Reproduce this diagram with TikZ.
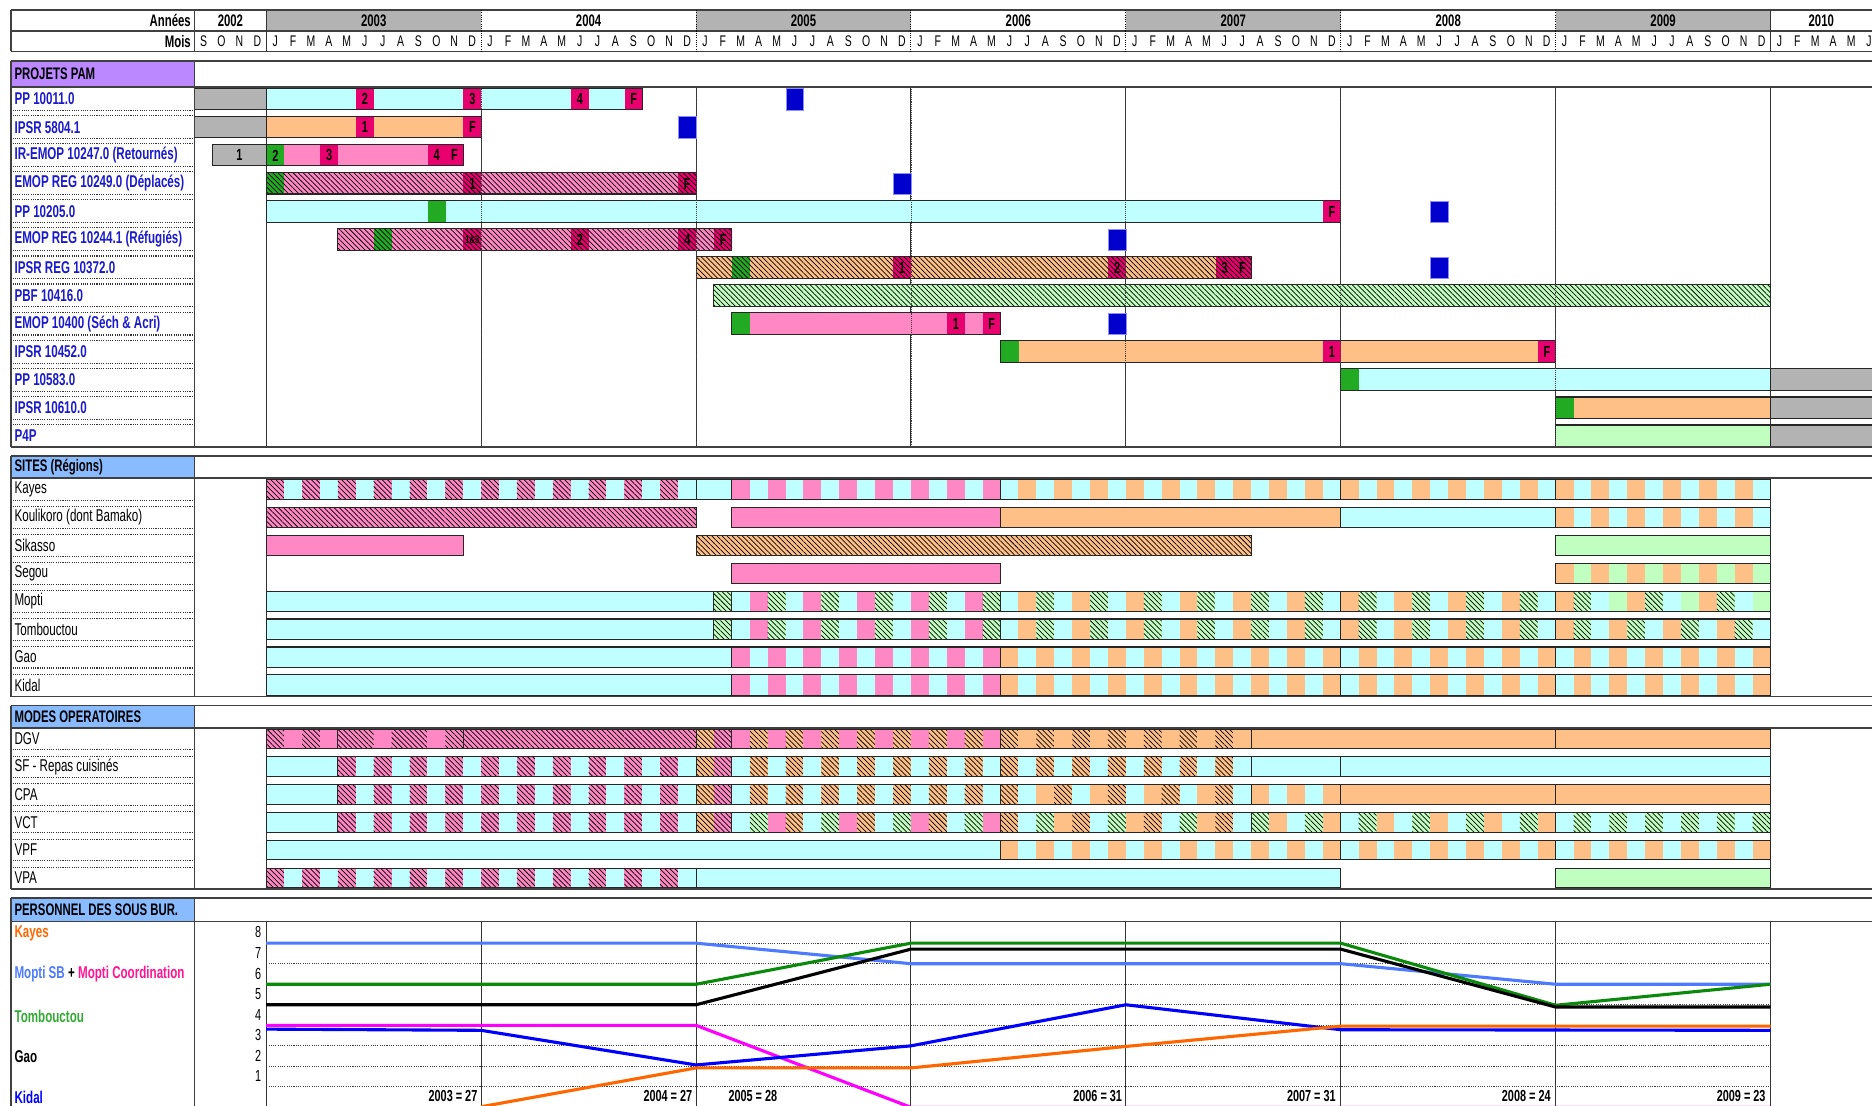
\documentclass[tikz,border=0pt]{standalone}
\usepackage{fontspec}
\setmainfont{Liberation Sans}[FakeStretch=0.68]
\usetikzlibrary{patterns.meta}

\definecolor{cyanL}{HTML}{C0FFFF}
\definecolor{peachL}{HTML}{FFC088}
\definecolor{pinkL}{HTML}{FF88C4}
\definecolor{greenL}{HTML}{C0FFC0}
\definecolor{grayL}{HTML}{B3B3B3}
\definecolor{magM}{HTML}{E8006E}
\definecolor{greenM}{HTML}{22AA22}
\definecolor{blueEv}{HTML}{0000CC}
\definecolor{projblue}{HTML}{1A1ACC}
\definecolor{headpurple}{HTML}{BB88FF}
\definecolor{headblue}{HTML}{88BBFF}
\definecolor{lineKayes}{HTML}{FF6600}
\definecolor{lineMoptiSB}{HTML}{4D7AFF}
\definecolor{lineMoptiCo}{HTML}{FF00FF}
\definecolor{lineTomb}{HTML}{0A8A0A}
\definecolor{lineKidal}{HTML}{0000FF}
\definecolor{labMoptiCo}{HTML}{FF1493}
\definecolor{labTomb}{HTML}{33AA33}

\tikzset{
  cy/.style={fill=cyanL}, pk/.style={fill=pinkL}, pe/.style={fill=peachL},
  lg/.style={fill=greenL}, gy/.style={fill=grayL},
  mg/.style={fill=magM}, gn/.style={fill=greenM},
  hatch/.style={postaction={pattern={Lines[angle=-45,distance=3pt,line width=0.6pt]},pattern color=black}},
  hpk/.style={pk,hatch}, hpe/.style={pe,hatch}, hlg/.style={lg,hatch},
  hmg/.style={mg,hatch}, hgn/.style={gn,hatch},
  barline/.style={draw=black!85,line width=0.9pt},
  boxline/.style={draw=black!75,line width=1.3pt},
  rowsep/.style={densely dotted,line width=0.9pt,black!80},
  yearline/.style={draw=black!80,line width=0.9pt},
  gridline/.style={densely dotted,line width=0.9pt,black!75},
  hdrtext/.style={inner sep=0pt,font=\bfseries\fontsize{14}{14}\selectfont},
  monthtext/.style={inner sep=0pt,font=\fontsize{12.9}{12.9}\selectfont},
  projlabel/.style={anchor=west,inner sep=0pt,text=projblue,font=\bfseries\fontsize{14.3}{14.3}\selectfont},
  sitelabel/.style={anchor=west,inner sep=0pt,font=\fontsize{14.3}{14.3}\selectfont},
  stafflabel/.style={anchor=west,inner sep=0pt,font=\bfseries\fontsize{14.3}{14.3}\selectfont},
  sectitle/.style={anchor=west,inner sep=0pt,font=\bfseries\fontsize{14}{14}\selectfont},
  mstone/.style={anchor=north west,inner sep=0pt,minimum width=15pt,minimum height=\bh pt,font=\bfseries\fontsize{13.5}{13.5}\selectfont},
  evalbox/.style={anchor=north west,inner sep=0pt,minimum width=15pt,minimum height=18pt,fill=blueEv,draw=blue!45,line width=0.6pt},
  staffline/.style={line width=2.6pt,line join=round},
  total/.style={inner sep=0pt,font=\bfseries\fontsize{13.4}{13.4}\selectfont},
  axisnum/.style={anchor=east,inner sep=0pt,font=\fontsize{13.4}{13.4}\selectfont},
}

% one bar: [milestones]{row}{first month}{last month}{cycle of cell styles}
\newcommand\seg[5][]{%
  \pgfmathsetmacro\rtop{\tz+\tstep*#2}%
  \foreach \s [count=\c] in {#5}{\xdef\ncyc{\c}}%
  \foreach \k in {#3,...,#4}{%
    \pgfmathtruncatemacro\ci{mod(\k-(#3),\ncyc)}%
    \foreach \s [count=\c from 0] in {#5}{%
      \ifnum\c=\ci\relax
        \fill[\s] ({223+15*\k},\rtop) rectangle ({238+15*\k},\rtop+\bh);
      \fi
    }%
  }%
  #1%
  \draw[barline] ({223+15*(#3)},\rtop) rectangle ({238+15*(#4)},\rtop+\bh);
}
% milestone cell: {name}{row}{month}{style}{text}
\newcommand\milestone[5]{%
  \pgfmathsetmacro\mtop{\tz+\tstep*#2}%
  \node[mstone,#4] (#1) at ({223+15*#3},\mtop) {#5};
}
% evaluation square: {name}{row}{month}
\newcommand\evalmark[3]{%
  \pgfmathsetmacro\mtop{\tz+\tstep*#2}%
  \node[evalbox] (#1) at ({223+15*#3},\mtop) {};
}
% section frame: {name}{top}{header bottom}{bottom}{fill}{title}
\newcommand\sectionbox[6]{%
  \fill[#5] (9.3,#2) rectangle (163,#3);
  \node[sectitle] (#1) at (12,{(#2+#3)/2}) {#6};
  \draw[boxline] (9.3,#2) -- (1568,#2) (9.3,#3) -- (1568,#3) (9.3,#4) -- (1568,#4)
    (9.3,#2) -- (9.3,#4) (163,#2) -- (163,#4);
}
% dotted separators of the label column: {number of rows}
\newcommand\labelseps[1]{%
  \foreach \i in {1,...,#1}{
    \draw[rowsep] (10.5,{\tz+\tstep*(\i-1)+\bh+0.6}) -- (162,{\tz+\tstep*(\i-1)+\bh+0.6})
      (10.5,{\tz+\tstep*\i-0.6}) -- (162,{\tz+\tstep*\i-0.6});
  }
}

\begin{document}
\begin{tikzpicture}[x=1pt,y=-1pt]
\useasboundingbox (0,0) rectangle (1568,926);
\clip (0,0) rectangle (1568,926);

% years and months
\foreach \yr/\xa/\xb/\fil in {2002/163/223/white,2003/223/403/grayL,2004/403/583/white,
  2005/583/763/grayL,2006/763/943/white,2007/943/1123/grayL,2008/1123/1303/white,
  2009/1303/1483/grayL,2010/1483/1568/white}{
  \fill[\fil] (\xa,8.4) rectangle (\xb,26);
  \node[hdrtext] (an\yr) at ({(\xa+\xb)/2},17.4) {\yr};
}
\node[hdrtext,anchor=east] (annees) at (160,17.4) {Années};
\node[hdrtext,anchor=east] (mois) at (160,34.8) {Mois};
\foreach \k in {-4,...,89}{
  \pgfmathtruncatemacro\mi{mod(\k+12,12)}
  \node[monthtext] (m\k) at ({230.5+15*\k},34.8)
    {\ifcase\mi J\or F\or M\or A\or M\or J\or J\or A\or S\or O\or N\or D\fi};
}
\draw[boxline] (9.3,8.4) -- (1568,8.4) (9.3,26) -- (1568,26) (9.3,43) -- (1568,43)
  (9.3,8.4) -- (9.3,43) (163,8.4) -- (163,43);
\draw[yearline] (223,8.4) -- (223,43) (1483,8.4) -- (1483,43);
\foreach \x in {403,583,...,1303} \draw[densely dotted,line width=0.9pt] (\x,8.4) -- (\x,43);

% PROJETS PAM
\def\tz{74}\def\tstep{23.5}\def\bh{18}
\foreach \x in {223,403,...,1483} \draw[yearline] (\x,73) -- (\x,374.5);
\seg{0}{-4}{-1}{gy}
\seg[\milestone{pp1a}{0}{5}{mg}{2}\milestone{pp1b}{0}{11}{mg}{3}%
  \milestone{pp1c}{0}{17}{mg}{4}\milestone{pp1d}{0}{20}{mg}{F}]{0}{0}{20}{cy}
\seg{1}{-4}{-1}{gy}
\seg[\milestone{ip1a}{1}{5}{mg}{1}\milestone{ip1b}{1}{11}{mg}{F}]{1}{0}{11}{pe}
\seg{2}{-3}{-1}{gy}
\node[mstone,anchor=center] (ir1) at (200.5,{\tz+\tstep*2+\bh/2}) {1};
\seg[\milestone{ir1a}{2}{0}{gn}{2}\milestone{ir1b}{2}{3}{mg}{3}%
  \milestone{ir1c}{2}{9}{mg}{4}\milestone{ir1d}{2}{10}{mg}{F}]{2}{0}{10}{pk}
\seg[\milestone{er1a}{3}{0}{hgn}{}\milestone{er1b}{3}{11}{hmg}{1}%
  \milestone{er1c}{3}{23}{hmg}{F}]{3}{0}{23}{hpk}
\seg[\milestone{pp2a}{4}{9}{gn}{}\milestone{pp2b}{4}{59}{mg}{F}]{4}{0}{59}{cy}
\seg[\milestone{er2a}{5}{6}{hgn}{}\milestone{er2b}{5}{11}{hmg}{\fontsize{9.5}{9.5}\selectfont 1\&3}%
  \milestone{er2c}{5}{17}{hmg}{2}\milestone{er2d}{5}{23}{hmg}{4}%
  \milestone{er2e}{5}{25}{hmg}{F}]{5}{4}{25}{hpk}
\seg[\milestone{ir2a}{6}{26}{hgn}{}\milestone{ir2b}{6}{35}{hmg}{1}%
  \milestone{ir2c}{6}{47}{hmg}{2}\milestone{ir2d}{6}{53}{hmg}{3}%
  \milestone{ir2e}{6}{54}{hmg}{F}]{6}{24}{54}{hpe}
\seg{7}{25}{83}{hlg}
\seg[\milestone{em1a}{8}{26}{gn}{}\milestone{em1b}{8}{38}{mg}{1}%
  \milestone{em1c}{8}{40}{mg}{F}]{8}{26}{40}{pk}
\seg[\milestone{ip2a}{9}{41}{gn}{}\milestone{ip2b}{9}{59}{mg}{1}%
  \milestone{ip2c}{9}{71}{mg}{F}]{9}{41}{71}{pe}
\seg[\milestone{pp3a}{10}{60}{gn}{}]{10}{60}{83}{cy}
\seg{10}{84}{90}{gy}
\seg[\milestone{ip3a}{11}{72}{gn}{}]{11}{72}{83}{pe}
\seg{11}{84}{90}{gy}
\seg{12}{72}{83}{lg}
\seg{12}{84}{90}{gy}
\foreach \x in {403,583,...,1303} \draw[densely dotted,black!75,line width=0.6pt] (\x,73) -- (\x,374.5);
\evalmark{ev1}{0}{29}
\evalmark{ev2}{1}{23}
\evalmark{ev3}{3}{35}
\evalmark{ev4}{4}{65}
\evalmark{ev5}{5}{47}
\evalmark{ev6}{6}{65}
\evalmark{ev7}{8}{47}
\sectionbox{projets}{51}{73}{374.5}{headpurple}{PROJETS PAM}
\labelseps{12}
\foreach \lab [count=\i from 0] in {PP 10011.0,IPSR 5804.1,IR-EMOP 10247.0 (Retournés),
  EMOP REG 10249.0 (Déplacés),PP 10205.0,EMOP REG 10244.1 (Réfugiés),IPSR REG 10372.0,
  PBF 10416.0,EMOP 10400 (Séch \& Acri),IPSR 10452.0,PP 10583.0,IPSR 10610.0,P4P}
  \node[projlabel] (proj\i) at (12,{\tz+\tstep*\i+\bh/2}) {\lab};

% SITES (Regions)
\def\tz{401.5}\def\tstep{23.4}\def\bh{17}
\draw[yearline] (223,400.5) -- (223,583.5) (1483,400.5) -- (1483,583.5);
\seg{0}{0}{23}{hpk,cy}\seg{0}{24}{25}{cy}\seg{0}{26}{40}{pk,cy}
\seg{0}{41}{59}{cy,pe}\seg{0}{60}{71}{pe,cy}\seg{0}{72}{83}{pe,cy}
\seg{1}{0}{23}{hpk}\seg{1}{26}{40}{pk}\seg{1}{41}{59}{pe}
\seg{1}{60}{71}{cy}\seg{1}{72}{83}{pe,cy}
\seg{2}{0}{10}{pk}\seg{2}{24}{54}{hpe}\seg{2}{72}{83}{lg}
\seg{3}{26}{40}{pk}\seg{3}{72}{83}{pe,lg}
\seg{4}{0}{24}{cy}\seg{4}{25}{25}{hlg}\seg{4}{26}{40}{cy,pk,hlg}
\seg{4}{41}{59}{cy,pe,hlg}\seg{4}{60}{71}{pe,hlg,cy}\seg{4}{72}{83}{pe,hlg,cy,lg}
\seg{5}{0}{24}{cy}\seg{5}{25}{25}{hlg}\seg{5}{26}{40}{cy,pk,hlg}
\seg{5}{41}{59}{cy,pe,hlg}\seg{5}{60}{71}{pe,hlg,cy}\seg{5}{72}{83}{pe,hlg,cy}
\foreach \r in {6,7}{
  \seg{\r}{0}{25}{cy}\seg{\r}{26}{40}{pk,cy}\seg{\r}{41}{59}{pe,cy}
  \seg{\r}{60}{71}{cy,pe}\seg{\r}{72}{83}{cy,pe}
}
\sectionbox{sites}{382}{400.5}{583.5}{headblue}{SITES (Régions)}
\labelseps{7}
\foreach \lab [count=\i from 0] in {Kayes,Koulikoro (dont Bamako),Sikasso,Segou,Mopti,
  Tombouctou,Gao,Kidal}
  \node[sitelabel] (site\i) at (12,{\tz+\tstep*\i+\bh/2}) {\lab};

% MODES OPERATOIRES
\def\tz{610.6}\def\tstep{23.3}\def\bh{16.5}
\draw[yearline] (223,610) -- (223,744.7) (1483,610) -- (1483,744.7);
\seg{0}{0}{3}{hpk,pk}\seg{0}{4}{10}{hpk,hpk,pk}\seg{0}{11}{23}{hpk}
\seg{0}{24}{25}{hpe,hpk}\seg{0}{26}{40}{pk,hpe}\seg{0}{41}{54}{hpe,pe}
\seg{0}{55}{71}{pe}\seg{0}{72}{83}{pe}
\seg{1}{0}{3}{cy}\seg{1}{4}{23}{hpk,cy}\seg{1}{24}{25}{hpe,hpk}
\seg{1}{26}{40}{cy,hpe}\seg{1}{41}{54}{hpe,cy}\seg{1}{55}{59}{cy}\seg{1}{60}{83}{cy}
\seg{2}{0}{3}{cy}\seg{2}{4}{23}{hpk,cy}\seg{2}{24}{25}{hpe,hpk}
\seg{2}{26}{40}{cy,hpe}\seg{2}{41}{54}{hpe,cy,pe}\seg{2}{55}{59}{pe,cy}
\seg{2}{60}{71}{pe}\seg{2}{72}{83}{pe}
\seg{3}{0}{3}{cy}\seg{3}{4}{23}{hpk,cy}\seg{3}{24}{25}{hpe,hpk}
\seg{3}{26}{40}{cy,hlg,pk,hpe}\seg{3}{41}{54}{hpe,cy,hlg,pe}
\seg{3}{55}{59}{hlg,pe,cy}\seg{3}{60}{71}{cy,hlg,pe}\seg{3}{72}{83}{cy,hlg}
\seg{4}{0}{40}{cy}\seg{4}{41}{59}{pe,cy}\seg{4}{60}{71}{cy,pe}\seg{4}{72}{83}{cy,pe}
\seg{5}{0}{23}{hpk,cy}\seg{5}{24}{59}{cy}\seg{5}{72}{83}{lg}
\sectionbox{modes}{591}{610}{744.7}{headblue}{MODES OPERATOIRES}
\labelseps{5}
\foreach \lab [count=\i from 0] in {DGV,SF - Repas cuisinés,CPA,VCT,VPF,VPA}
  \node[sitelabel] (mode\i) at (12,{\tz+\tstep*\i+\bh/2}) {\lab};

% PERSONNEL DES SOUS BUR.
\foreach \x in {223,403,...,1483} \draw[yearline] (\x,772) -- (\x,926);
\foreach \j in {0,...,7} \draw[gridline] (223,{790+17.2*\j}) -- (1483,{790+17.2*\j});
\foreach \v in {8,...,1} \node[axisnum] (ax\v) at (219,{781+17.2*(8-\v)}) {\v};
\draw[staffline,lineMoptiSB] plot coordinates {(223,790) (583,790) (763,807.2) (1123,807.2) (1303,824.4) (1483,824.4)};
\draw[staffline,lineMoptiCo] plot coordinates {(223,858.8) (583,858.8) (763,927.5) (1483,927.5)};
\draw[staffline,lineTomb] plot coordinates {(223,824.4) (583,824.4) (763,790) (1123,790) (1303,842) (1483,824.4)};
\draw[staffline,black] plot coordinates {(223,841.6) (583,841.6) (763,795) (1123,795) (1303,843.5) (1483,843.5)};
\draw[staffline,lineKidal] plot coordinates {(223,862) (403,863) (583,892) (763,876) (943,841.6) (1123,862.5) (1483,863)};
\draw[staffline,lineKayes] plot coordinates {(403,927) (583,894.5) (763,894.5) (943,876.5) (1123,859.5) (1483,859.5)};
\node[total,anchor=east] (t2003) at (400,918) {2003 = 27};
\node[total,anchor=east] (t2004) at (580,918) {2004 = 27};
\node[total,anchor=west] (t2005) at (610,918) {2005 = 28};
\node[total,anchor=east] (t2006) at (940,918) {2006 = 31};
\node[total,anchor=east] (t2007) at (1119,918) {2007 = 31};
\node[total,anchor=east] (t2008) at (1299,918) {2008 = 24};
\node[total,anchor=east] (t2009) at (1479,918) {2009 = 23};
\sectionbox{personnel}{752}{772}{930}{headblue}{PERSONNEL DES SOUS BUR.}
\node[stafflabel,text=lineKayes] (labKayes) at (12,782) {Kayes};
\node[stafflabel] (labMopti) at (12,816) {\textcolor{lineMoptiSB}{Mopti SB} + \textcolor{labMoptiCo}{Mopti Coordination}};
\node[stafflabel,text=labTomb] (labTomb) at (12,851) {Tombouctou};
\node[stafflabel] (labGao) at (12,885) {Gao};
\node[stafflabel,text=lineKidal] (labKidal) at (12,919) {Kidal};
\end{tikzpicture}
\end{document}
